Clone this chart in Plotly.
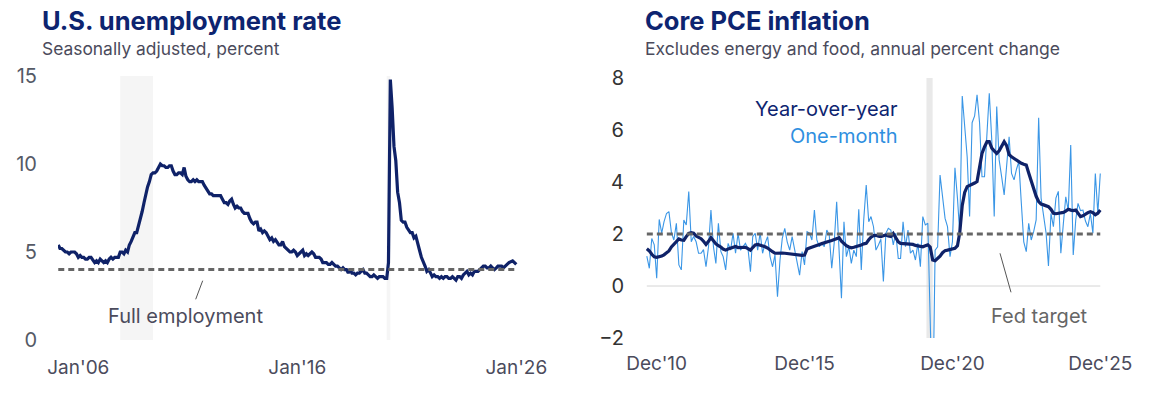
import plotly.graph_objects as go
import pandas as pd

# ---------------- data ----------------
unemp_start = "2005-02-01"
unemp_rate = [
    5.4, 5.2, 5.2, 5.1, 5.0, 5.0, 4.9, 5.0, 5.0, 5.0, 4.9,            # 2005 Feb-Dec
    4.7, 4.8, 4.7, 4.7, 4.6, 4.6, 4.7, 4.7, 4.5, 4.4, 4.5, 4.4,       # 2006
    4.6, 4.5, 4.4, 4.5, 4.4, 4.6, 4.7, 4.6, 4.7, 4.7, 4.7, 5.0,       # 2007
    5.0, 4.9, 5.1, 5.0, 5.4, 5.6, 5.8, 6.1, 6.1, 6.5, 6.8, 7.3,       # 2008
    7.8, 8.3, 8.7, 9.0, 9.4, 9.5, 9.5, 9.6, 9.8, 10.0, 9.9, 9.9,      # 2009
    9.8, 9.8, 9.9, 9.9, 9.6, 9.4, 9.4, 9.5, 9.5, 9.4, 9.8, 9.3,       # 2010
    9.1, 9.0, 9.0, 9.1, 9.0, 9.1, 9.0, 9.0, 9.0, 8.8, 8.6, 8.5,       # 2011
    8.3, 8.3, 8.2, 8.2, 8.2, 8.2, 8.2, 8.0, 7.8, 7.8, 7.7, 7.9,       # 2012
    8.0, 7.7, 7.5, 7.6, 7.5, 7.5, 7.3, 7.2, 7.2, 7.2, 6.9, 6.7,       # 2013
    6.6, 6.7, 6.7, 6.2, 6.3, 6.1, 6.2, 6.1, 5.9, 5.7, 5.8, 5.6,       # 2014
    5.7, 5.5, 5.4, 5.4, 5.6, 5.3, 5.2, 5.1, 5.0, 5.0, 5.1, 5.0,       # 2015
    4.8, 4.9, 5.0, 5.1, 4.8, 4.9, 4.8, 4.9, 5.0, 4.9, 4.7, 4.7,       # 2016
    4.7, 4.6, 4.4, 4.4, 4.4, 4.3, 4.3, 4.4, 4.3, 4.2, 4.2, 4.1,       # 2017
    4.0, 4.1, 4.0, 4.0, 3.8, 4.0, 3.8, 3.8, 3.7, 3.8, 3.8, 3.9,       # 2018
    4.0, 3.8, 3.8, 3.7, 3.6, 3.6, 3.7, 3.6, 3.5, 3.6, 3.6, 3.6,       # 2019
    3.5, 3.5, 4.4, 14.8, 13.2, 11.0, 10.2, 8.4, 7.8, 6.8, 6.7, 6.7,   # 2020
    6.4, 6.2, 6.1, 6.1, 5.8, 5.9, 5.4, 5.1, 4.7, 4.5, 4.2, 3.9,       # 2021
    4.0, 3.8, 3.6, 3.7, 3.6, 3.6, 3.5, 3.6, 3.5, 3.6, 3.6, 3.5,       # 2022
    3.5, 3.6, 3.5, 3.4, 3.6, 3.6, 3.5, 3.7, 3.8, 3.9, 3.7, 3.8,       # 2023
    3.7, 3.9, 3.9, 3.9, 4.0, 4.1, 4.2, 4.2, 4.1, 4.1, 4.2, 4.1,       # 2024
    4.0, 4.1, 4.2, 4.2, 4.2, 4.1, 4.2, 4.3, 4.4, None, 4.5, 4.4,      # 2025
    4.3,                                                              # 2026 Jan
]
full_employment = 4.0
unemp_recessions = [("2007-12-01", "2009-06-01"), ("2020-02-01", "2020-04-01")]
unemp_ticks = ["2006-01-01", "2016-01-01", "2026-01-01"]
unemp_ticktext = ["Jan'06", "Jan'16", "Jan'26"]

pce_start = "2010-08-01"
pce_yoy = [
    1.43, 1.35, 1.22, 1.12, 1.10,                                            # 2010 Aug-Dec
    1.12, 1.15, 1.20, 1.28, 1.35, 1.50, 1.60, 1.72, 1.81, 1.77, 1.76, 1.90,  # 2011
    2.02, 2.05, 2.03, 1.92, 1.86, 1.82, 1.72, 1.60, 1.72, 1.86, 1.74, 1.62,  # 2012
    1.55, 1.50, 1.42, 1.38, 1.42, 1.46, 1.50, 1.52, 1.48, 1.49, 1.51, 1.49,  # 2013
    1.44, 1.38, 1.48, 1.58, 1.60, 1.58, 1.55, 1.51, 1.46, 1.38, 1.32, 1.26,  # 2014
    1.27, 1.28, 1.27, 1.26, 1.25, 1.22, 1.23, 1.22, 1.22, 1.19, 1.18, 1.19,  # 2015
    1.42, 1.46, 1.50, 1.52, 1.56, 1.60, 1.63, 1.67, 1.70, 1.72, 1.75, 1.78,  # 2016
    1.84, 1.86, 1.72, 1.62, 1.55, 1.50, 1.47, 1.49, 1.51, 1.54, 1.58, 1.62,  # 2017
    1.64, 1.78, 1.88, 1.94, 1.95, 1.92, 1.90, 1.93, 1.96, 1.92, 1.90, 2.02,  # 2018
    1.85, 1.70, 1.64, 1.63, 1.65, 1.64, 1.62, 1.60, 1.56, 1.54, 1.52, 1.51,  # 2019
    1.55, 1.58, 1.50, 1.00, 0.97, 1.05, 1.15, 1.28, 1.36, 1.38, 1.40, 1.42,  # 2020
    1.45, 1.55, 2.05, 3.10, 3.60, 3.82, 3.86, 3.92, 3.96, 4.02, 4.50, 5.10,  # 2021
    5.35, 5.55, 5.55, 5.30, 5.20, 5.10, 5.20, 5.35, 5.55, 5.40, 5.05, 4.97,  # 2022
    4.90, 4.85, 4.80, 4.72, 4.68, 4.65, 4.35, 4.05, 3.70, 3.45, 3.25, 3.15,  # 2023
    3.12, 3.10, 3.05, 2.95, 2.80, 2.78, 2.80, 2.79, 2.83, 2.88, 2.95, 2.92,  # 2024
    2.90, 2.92, 2.80, 2.67, 2.70, 2.78, 2.82, 2.86, 2.82, 2.74, 2.80, 2.92,  # 2025
]
pce_one_month = [
    1.15, 0.68, 1.83, 1.58, 0.30,                                            # 2010 Aug-Dec
    2.56, 2.03, 2.47, 2.79, 2.86, 2.05, 1.77, 2.41, 0.81, 0.62, 2.54, 2.35,  # 2011
    3.63, 1.70, 1.90, 1.70, 1.26, 1.26, 1.40, 0.74, 1.51, 2.92, 1.51, 0.87,  # 2012
    2.41, 1.32, 1.13, 0.62, 1.64, 1.38, 2.03, 1.26, 2.03, 1.38, 1.51, 1.64,  # 2013
    1.45, 0.55, 1.90, 2.03, 1.38, 2.05, 1.26, 1.64, 1.90, 1.13, 0.74, 1.20,  # 2014
    -0.41, 1.00, 1.83, 2.22, 1.70, 1.38, 1.90, 1.38, 0.87, 0.42, 1.32, 0.81, # 2015
    2.09, 2.03, 1.77, 2.92, 1.77, 1.51, 1.64, 1.51, 2.15, 1.97, 0.68, 1.64,  # 2016
    3.24, 1.38, -0.47, 2.47, 1.13, 1.51, 0.87, 1.38, 1.13, 2.95, 0.62, 2.54, # 2017
    3.88, 2.47, 2.67, 2.28, 1.38, 1.58, 1.80, 0.17, 2.03, 2.22, 2.15, 1.58,  # 2018
    2.03, 1.06, 1.06, 2.47, 1.51, 2.15, 1.26, 1.38, 1.00, 1.64, 0.74, 2.67,  # 2019
    2.35, 2.41, -1.30, -5.20, 1.38, 1.51, 4.27, 3.43, 2.60, 2.28, 1.13, 1.70, # 2020
    4.55, 3.38, 2.03, 7.31, 6.15, 4.97, 2.67, 6.28, 6.54, 7.35, 6.28, 4.20,  # 2021
    4.20, 6.04, 7.41, 5.60, 2.67, 6.90, 4.85, 4.20, 3.50, 4.60, 5.74, 4.33,  # 2022
    4.08, 4.50, 4.78, 3.18, 1.70, 1.32, 2.41, 1.77, 2.10, 2.54, 6.47, 3.38,  # 2023
    2.60, 2.03, 0.77, 2.79, 2.28, 3.38, 3.64, 1.26, 2.40, 3.43, 2.90, 5.42,  # 2024
    1.19, 2.54, 3.18, 2.90, 2.92, 2.50, 2.28, 2.79, 2.03, 4.33, 2.80, 4.33,  # 2025
]
fed_target = 2.0
pce_recessions = [("2020-01-15", "2020-03-31")]
pce_ticks = ["2010-12-01", "2015-12-01", "2020-12-01", "2025-12-01"]
pce_ticktext = ["Dec'10", "Dec'15", "Dec'20", "Dec'25"]

# ---------------- styles ----------------
FONT = "Inter"
NAVY = "#0d2470"
LINE_NAVY = "#0f2268"
LIGHT_BLUE = "#3a96e6"
GRAY_TXT = "#4b4b5c"
DASH_GRAY = "#666666"

W, H = 1176, 394

unemp_dates = pd.date_range(unemp_start, periods=len(unemp_rate), freq="MS")
pce_dates = pd.date_range(pce_start, periods=len(pce_yoy), freq="MS")


def px_x(p):
    return p / W


def px_y(p):
    return 1 - p / H


def date_range_for(anchor, anchor_px, px_per_year, p0, p1):
    a = pd.Timestamp(anchor)
    per_day = px_per_year / 365.25
    return [a + pd.Timedelta(days=(p0 - anchor_px) / per_day),
            a + pd.Timedelta(days=(p1 - anchor_px) / per_day)]


L_X0, L_X1 = 58, 520
R_X0, R_X1 = 645, 1104

left_range = date_range_for("2006-01-01", 78.3, 21.9, L_X0, L_X1)
right_range = date_range_for("2010-12-01", 656.7, 29.57, R_X0, R_X1)

fig = go.Figure()

fig.add_trace(go.Scatter(x=unemp_dates, y=unemp_rate, mode="lines", connectgaps=True,
                         line=dict(color=LINE_NAVY, width=3.2), xaxis="x", yaxis="y",
                         showlegend=False, hoverinfo="skip"))
fig.add_trace(go.Scatter(x=pce_dates, y=pce_one_month, mode="lines",
                         line=dict(color=LIGHT_BLUE, width=1.1), xaxis="x2", yaxis="y2",
                         showlegend=False, hoverinfo="skip"))
fig.add_trace(go.Scatter(x=pce_dates, y=pce_yoy, mode="lines",
                         line=dict(color=LINE_NAVY, width=3.2), xaxis="x2", yaxis="y2",
                         showlegend=False, hoverinfo="skip"))

shapes = []
for a, b in unemp_recessions:
    shapes.append(dict(type="rect", xref="x", yref="y", x0=a, x1=b, y0=0, y1=15,
                       fillcolor="#f5f5f5", line=dict(width=0), layer="below"))
for a, b in pce_recessions:
    shapes.append(dict(type="rect", xref="x2", yref="y2", x0=a, x1=b, y0=-2, y1=8,
                       fillcolor="#e9e9e9", line=dict(width=0), layer="below"))
shapes.append(dict(type="line", xref="x2", yref="y2", x0=pce_dates[0], x1=pce_dates[-1],
                   y0=0, y1=0, line=dict(color="#d4d4d4", width=1), layer="below"))
shapes.append(dict(type="line", xref="x", yref="y", x0=unemp_dates[0], x1=unemp_dates[-1],
                   y0=full_employment, y1=full_employment,
                   line=dict(color=DASH_GRAY, width=3, dash="6px,4px"), layer="above"))
shapes.append(dict(type="line", xref="x2", yref="y2", x0=pce_dates[0], x1=pce_dates[-1],
                   y0=fed_target, y1=fed_target,
                   line=dict(color=DASH_GRAY, width=3, dash="6px,4px"), layer="above"))
# leader lines
shapes.append(dict(type="line", xref="paper", yref="paper",
                   x0=px_x(202.7), y0=px_y(280.7), x1=px_x(195.7), y1=px_y(299.3),
                   line=dict(color="#555555", width=1)))
shapes.append(dict(type="line", xref="paper", yref="paper",
                   x0=px_x(1000), y0=px_y(253.3), x1=px_x(1011), y1=px_y(292.3),
                   line=dict(color="#555555", width=1)))


def ann(text, x, y, size, color, xanchor="left", weight=400):
    return dict(text=text, x=px_x(x), y=px_y(y), xref="paper", yref="paper",
                xanchor=xanchor, yanchor="middle", showarrow=False,
                font=dict(family=FONT, size=size, color=color, weight=weight))


annotations = [
    ann("U.S. unemployment rate", 40, 21, 25.5, NAVY, weight=700),
    ann("Seasonally adjusted, percent", 40, 49, 17.4, GRAY_TXT),
    ann("Core PCE inflation", 643, 21, 25.5, NAVY, weight=700),
    ann("Excludes energy and food, annual percent change", 643, 49, 17.5, GRAY_TXT),
    ann("Year-over-year", 900, 109, 20, NAVY, xanchor="right"),
    ann("One-month", 900, 136, 20, "#2f8fe0", xanchor="right"),
    ann("Full employment", 106, 316, 20, GRAY_TXT),
    ann("Fed target", 989, 316, 20, "#666666"),
]

tickfont_x = dict(family=FONT, size=19, color=GRAY_TXT)

fig.update_layout(
    width=W, height=H, autosize=False,
    margin=dict(l=0, r=0, t=0, b=0, pad=0, autoexpand=False),
    paper_bgcolor="white", plot_bgcolor="white",
    showlegend=False,
    hovermode=False,
    shapes=shapes,
    annotations=annotations,
    xaxis=dict(domain=[px_x(L_X0), px_x(L_X1)], range=left_range, type="date",
               tickvals=unemp_ticks, ticktext=unemp_ticktext, showgrid=False,
               zeroline=False, showline=False, ticks="outside", ticklen=10,
               tickcolor="rgba(0,0,0,0)", tickfont=tickfont_x, anchor="y",
               automargin=False),
    yaxis=dict(domain=[px_y(340), px_y(76)], range=[0, 15], tickvals=[0, 5, 10, 15],
               showgrid=False, zeroline=False, showline=False, ticks="outside",
               ticklen=16, tickcolor="rgba(0,0,0,0)",
               tickfont=dict(family=FONT, size=20, color="#555a66"), anchor="x",
               automargin=False),
    xaxis2=dict(domain=[px_x(R_X0), px_x(R_X1)], range=right_range, type="date",
                tickvals=pce_ticks, ticktext=pce_ticktext, showgrid=False,
                zeroline=False, showline=False, ticks="outside", ticklen=8,
                tickcolor="rgba(0,0,0,0)", tickfont=tickfont_x, anchor="y2",
                automargin=False),
    yaxis2=dict(domain=[px_y(338), px_y(78)], range=[-2, 8], tickvals=[-2, 0, 2, 4, 6, 8],
                showgrid=False, zeroline=False, showline=False, ticks="outside",
                ticklen=16, tickcolor="rgba(0,0,0,0)",
                tickfont=dict(family=FONT, size=20, color="#333333"), anchor="x2",
                automargin=False),
)

# remove the browser's default 8px body margin so the figure fills the window
fig.write_html("out.html", config={"displayModeBar": False, "staticPlot": True},
               post_script="document.body.style.margin='0px';")
